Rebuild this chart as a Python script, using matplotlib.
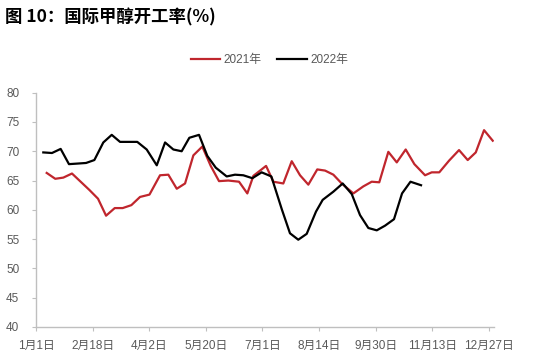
import matplotlib
matplotlib.use("Agg")
from matplotlib import pyplot as plt

plt.rcParams['font.family'] = ['Liberation Sans', 'Noto Sans CJK SC', 'DejaVu Sans']

# x = day offset from 1月1日, y = 开工率 %
days_2021 = [8.5, 15.3, 21.7, 28.6, 35.5, 42.4, 49.3, 55.7, 62.6, 68.9,
             75.8, 82.7, 90.2, 98.6, 105.2, 111.9, 118.5, 125.1, 132.2, 138.9,
             145.5, 152.9, 161.4, 168.0, 172.8, 182.9, 188.7, 196.6, 203.3, 209.9,
             216.5, 223.6, 229.8, 236.4, 243.0, 252.3, 260.2, 266.9, 272.9, 280.1,
             286.8, 293.9, 300.8, 309.3, 314.6, 320.6, 328.4, 336.3, 343.2, 349.6,
             356.2, 363.1]
rate_2021 = [66.3, 65.3, 65.5, 66.2, 64.8, 63.4, 61.9, 59.0, 60.3, 60.3,
             60.8, 62.2, 62.6, 65.9, 66.0, 63.6, 64.5, 69.3, 70.8, 67.5,
             64.9, 65.0, 64.8, 62.8, 65.8, 67.5, 64.8, 64.5, 68.3, 65.9,
             64.3, 66.9, 66.7, 66.0, 64.5, 62.8, 64.0, 64.8, 64.7, 69.9,
             68.1, 70.3, 67.8, 65.9, 66.4, 66.4, 68.4, 70.2, 68.5, 69.8,
             73.6, 71.8]

days_2022 = [5.8, 12.7, 19.6, 26.2, 33.2, 39.8, 46.4, 53.5, 60.2, 66.8,
             73.7, 80.5, 88.0, 96.0, 102.6, 109.2, 115.8, 121.9, 129.6, 136.2,
             142.9, 151.6, 158.2, 164.8, 172.0, 179.4, 187.1, 195.4, 201.9, 208.5,
             215.2, 222.6, 227.9, 236.4, 243.8, 251.0, 257.6, 264.2, 270.9, 277.5,
             284.6, 291.0, 297.7, 306.1]
rate_2022 = [69.8, 69.7, 70.4, 67.8, 67.9, 68.0, 68.5, 71.5, 72.8, 71.6,
             71.6, 71.6, 70.3, 67.6, 71.5, 70.3, 70.0, 72.3, 72.8, 69.2,
             67.2, 65.7, 66.0, 65.9, 65.4, 66.4, 65.7, 60.1, 56.0, 54.9,
             55.9, 59.7, 61.7, 63.1, 64.5, 62.7, 59.1, 56.9, 56.5, 57.3,
             58.4, 62.8, 64.8, 64.2]

tick_days = [0, 45, 90, 135, 180, 225, 270, 315, 360]
tick_labels = ["1月1日", "2月18日", "4月2日", "5月20日", "7月1日",
               "8月14日", "9月30日", "11月13日", "12月27日"]

fig = plt.figure(figsize=(5.39, 3.62), dpi=100)
ax = fig.add_axes([0.0668, 0.0967, 0.8497, 0.6473])

ax.plot(days_2021, rate_2021, color="#C0262D", lw=1.6, label="2021年")
ax.plot(days_2022, rate_2022, color="#000000", lw=1.6, label="2022年")

ax.set_xlim(0, 364.1)
ax.set_ylim(40, 80)
ax.set_yticks(range(40, 81, 5))
ax.set_xticks(tick_days)
ax.set_xticklabels(tick_labels)

for side in ["top", "right"]:
    ax.spines[side].set_visible(False)
for side in ["left", "bottom"]:
    ax.spines[side].set_color("#BFBFBF")
    ax.spines[side].set_linewidth(1.0)
ax.tick_params(axis="both", colors="#BFBFBF", labelcolor="#595959",
               labelsize=8.5, length=3, direction="out")
ax.tick_params(axis="y", pad=9)
ax.tick_params(axis="x", pad=6)

fig.text(0.009, 0.952, "图 10：国际甲醇开工率(%)", fontsize=12.5,
         fontweight="bold", va="center", ha="left",
         family=['Noto Sans CJK SC', 'DejaVu Sans'])

fig.legend(loc="center", bbox_to_anchor=(0.5, 0.835), ncol=2, frameon=False,
           fontsize=8.5, handlelength=2.5, handletextpad=0.3,
           columnspacing=1.3, labelcolor="#595959")

fig.savefig("out.png", dpi=100)
